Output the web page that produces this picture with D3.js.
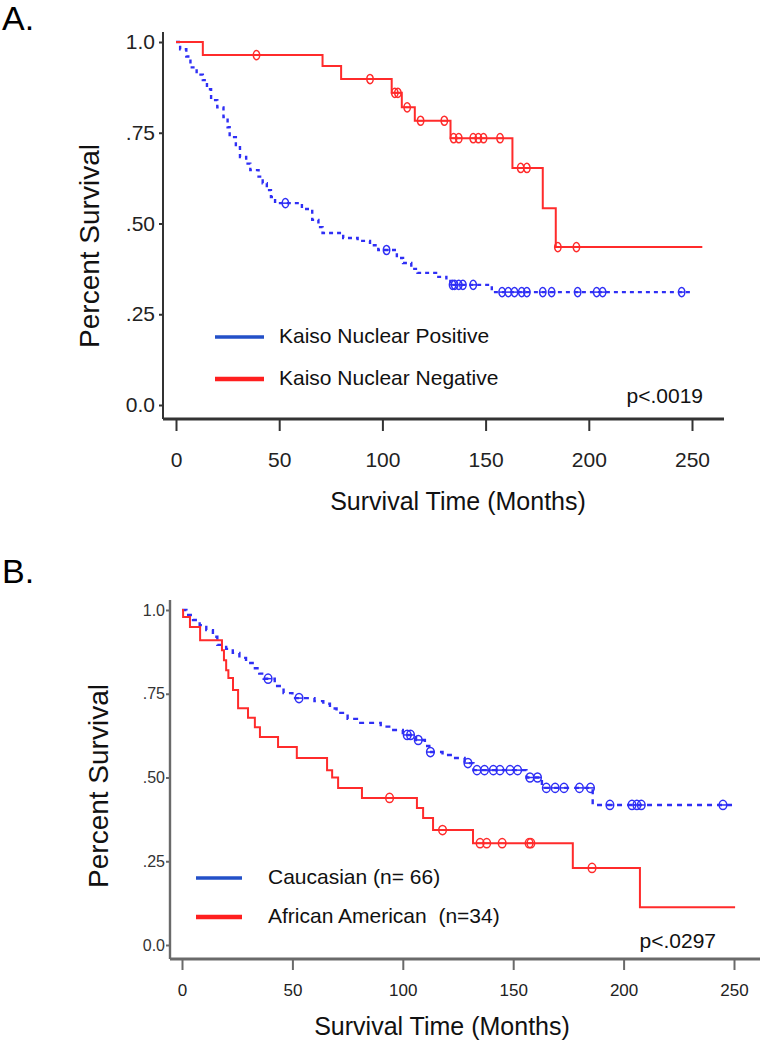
<!DOCTYPE html>
<html>
<head>
<meta charset="utf-8">
<script src="https://cdnjs.cloudflare.com/ajax/libs/d3/7.8.5/d3.min.js"></script>
<style>
  body { margin: 0; background: #fff; }
  svg text { font-family: "Liberation Sans", Arial, sans-serif; }
</style>
</head>
<body>
<svg id="chart" width="764" height="1050"></svg>
<script>
// ----- DATA -----

var xTicks = [0, 50, 100, 150, 200, 250];
var yTicks = [0, 0.25, 0.5, 0.75, 1.0];
var yTickLabels = ["0.0", ".25", ".50", ".75", "1.0"];

// panel A, Kaiso nuclear positive (blue, dashed)
var aPosTimes = [2, 5, 7, 10, 13, 15, 17, 20, 23, 25, 26, 29, 31, 34, 36, 40, 42, 44, 46, 48,
                 61, 66, 69, 71, 81, 88, 94, 98, 107, 110, 114, 117, 126, 131, 133, 153];
var aPosSurv  = [0.98, 0.96, 0.93, 0.91, 0.895, 0.87, 0.84, 0.82, 0.793, 0.765, 0.738, 0.71, 0.683, 0.665, 0.647, 0.629, 0.611, 0.592, 0.573, 0.556,
                 0.54, 0.51, 0.49, 0.474, 0.46, 0.452, 0.44, 0.427, 0.405, 0.391, 0.375, 0.364, 0.353, 0.342, 0.331, 0.311];
var aPosCensor = [53, 102, 134, 135, 137, 139, 144, 158, 161, 164, 167.5, 170, 177.7, 182, 194.6, 203.8, 206.7, 245];
var aPosEnd = 250;

// panel A, Kaiso nuclear negative (red, solid)
var aNegTimes = [13, 71, 80, 104.5, 109.4, 115.7, 133, 163, 177.7, 184];
var aNegSurv  = [0.964, 0.934, 0.898, 0.86, 0.82, 0.783, 0.735, 0.653, 0.542, 0.435];
var aNegCensor = [39, 94, 106, 107.5, 112, 118.5, 130, 134.5, 137, 144, 146.5, 149, 157, 167, 170, 185, 194];
var aNegEnd = 255;

// panel B, Caucasian (blue, dashed)
var bCauTimes = [2, 5, 8, 11, 14, 16, 20, 23, 26, 29, 32, 35, 37, 42, 46, 50, 60, 64, 67, 70, 75, 80, 90, 95,
                 100, 106, 110, 112, 118, 123, 128, 132, 156, 163, 186];
var bCauSurv  = [0.985, 0.97, 0.955, 0.94, 0.92, 0.896, 0.884, 0.872, 0.857, 0.842, 0.826, 0.81, 0.795, 0.773, 0.752, 0.737, 0.728, 0.72, 0.706, 0.693, 0.675, 0.663, 0.652, 0.642,
                 0.627, 0.612, 0.594, 0.576, 0.567, 0.558, 0.543, 0.522, 0.5, 0.469, 0.418];
var bCauCensor = [39, 53, 102, 103.5, 107, 112.5, 129.5, 133.6, 137, 141, 144, 148.6, 152, 157.6, 161,
                  165, 169, 173, 180, 185, 193.8, 203.8, 206, 208, 245];
var bCauEnd = 249.5;

// panel B, African American (red, solid)
var bAfrTimes = [0.5, 3.6, 8.2, 18.1, 19, 20, 21, 23.1, 25.4, 29.9, 33, 35.3, 43.5, 52, 65.7, 68, 70.7, 81.5,
                 106.4, 109.2, 113.7, 131.8, 177, 207.4];
var bAfrSurv  = [0.979, 0.949, 0.91, 0.88, 0.85, 0.82, 0.797, 0.761, 0.707, 0.678, 0.65, 0.621, 0.591, 0.558, 0.522, 0.5, 0.469, 0.439,
                 0.409, 0.379, 0.343, 0.304, 0.23, 0.113];
var bAfrCensor = [94, 118, 135, 138, 145, 157.2, 158, 185.7];
var bAfrEnd = 250.5;

var blue = "#2f2ff5";
var red = "#ff2b2b";

var svg = d3.select("#chart");
svg.append("rect").attr("width", 764).attr("height", 1050).attr("fill", "#fff");

// survival value at time t from a step function
function survAt(times, surv, t) {
    var i = d3.bisectRight(times, t);
    return i == 0 ? 1 : surv[i - 1];
}

function drawCurve(g, x, y, times, surv, censor, end, color, dash, width, rx, ry) {
    var pts = [[0, 1]];
    times.forEach(function(t, i) { pts.push([t, surv[i]]); });
    pts.push([end, surv[surv.length - 1]]);

    var line = d3.line()
        .x(function(d) { return x(d[0]); })
        .y(function(d) { return y(d[1]); })
        .curve(d3.curveStepAfter);

    g.append("path")
        .attr("d", line(pts))
        .attr("fill", "none")
        .attr("stroke", color)
        .attr("stroke-width", width)
        .attr("stroke-dasharray", dash);

    // censor marks, drawn like little thetas
    var marks = g.selectAll(null).data(censor).enter().append("g")
        .attr("transform", function(t) { return "translate(" + x(t) + "," + y(survAt(times, surv, t)) + ")"; });
    marks.append("ellipse")
        .attr("rx", rx).attr("ry", ry)
        .attr("fill", "none")
        .attr("stroke", color)
        .attr("stroke-width", 1.5);
    marks.append("line")
        .attr("x1", -rx).attr("x2", rx)
        .attr("stroke", color)
        .attr("stroke-width", 1.5);
}

function drawPanel(p) {
    var g = svg.append("g");
    var x = d3.scaleLinear().domain([0, 250]).range([p.x0, p.x250]);
    var y = d3.scaleLinear().domain([0, 1]).range([p.y0, p.y1]);

    // panel letter
    g.append("text").attr("x", 2).attr("y", p.letterY)
        .style("font-size", "34px").attr("fill", "#000").text(p.letter);

    // axes
    var gx = g.append("g")
        .attr("transform", "translate(0," + p.axisY + ")")
        .call(d3.axisBottom(x).tickValues(xTicks).tickSize(p.xTickSize).tickPadding(p.xPad).tickFormat(d3.format("d")));
    gx.attr("font-size", null).attr("font-family", null);
    gx.select(".domain").remove();
    gx.selectAll("line").attr("stroke", p.axisColor).attr("stroke-width", 2);
    gx.selectAll("text").style("font-size", p.xFont + "px").attr("fill", "#222");

    var gy = g.append("g")
        .attr("transform", "translate(" + p.axisX + ",0)")
        .call(d3.axisLeft(y).tickValues(yTicks).tickSize(4).tickPadding(p.yPad)
            .tickFormat(function(d, i) { return yTickLabels[i]; }));
    gy.attr("font-size", null).attr("font-family", null);
    gy.select(".domain").remove();
    gy.selectAll("line").attr("stroke", p.axisColor).attr("stroke-width", 2);
    gy.selectAll("text").style("font-size", p.yFont + "px").attr("fill", p.yTextColor);

    g.append("line")
        .attr("x1", p.axisX).attr("x2", p.axisX)
        .attr("y1", p.axisTop).attr("y2", p.axisY)
        .attr("stroke", p.axisColor).attr("stroke-width", p.axisWidth);
    g.append("line")
        .attr("x1", p.axisX).attr("x2", p.axisRight)
        .attr("y1", p.axisY).attr("y2", p.axisY)
        .attr("stroke", p.axisColor).attr("stroke-width", p.axisWidth + 0.8);

    // axis titles
    g.append("text")
        .attr("transform", "translate(" + p.yLabelX + "," + p.yLabelY + ") rotate(-90)")
        .attr("text-anchor", "middle").attr("dominant-baseline", "middle")
        .style("font-size", "28px").attr("fill", "#111")
        .text("Percent Survival");
    g.append("text")
        .attr("x", p.xLabelX).attr("y", p.xLabelY)
        .attr("text-anchor", "middle").attr("dominant-baseline", "middle")
        .style("font-size", "25px").attr("fill", "#111")
        .text("Survival Time (Months)");

    // curves
    p.curves.forEach(function(c) {
        drawCurve(g, x, y, c.times, c.surv, c.censor, c.end, c.color, c.dash, c.width, p.rx, p.ry);
    });

    // legend
    p.legend.forEach(function(l, i) {
        var ly = p.legY + i * p.legStep;
        g.append("line")
            .attr("x1", p.legX1).attr("x2", p.legX2)
            .attr("y1", ly).attr("y2", ly)
            .attr("stroke", l.color).attr("stroke-width", i == 0 ? 3.5 : 4.5);
        g.append("text")
            .attr("x", p.legTextX).attr("y", ly)
            .attr("dominant-baseline", "middle")
            .style("font-size", p.legFont + "px").attr("fill", "#111")
            .attr("xml:space", "preserve")
            .text(l.label);
    });

    g.append("text")
        .attr("x", p.pX).attr("y", p.pY)
        .attr("text-anchor", "end").attr("dominant-baseline", "middle")
        .style("font-size", "21px").attr("fill", "#111")
        .text(p.pText);
}

drawPanel({
    letter: "A.", letterY: 30,
    x0: 176, x250: 692, y0: 405, y1: 42,
    axisX: 163, axisY: 419, axisTop: 32, axisRight: 724,
    axisColor: "#333", axisWidth: 2,
    xTickSize: 12, xPad: 21, xFont: 21, yPad: 4, yFont: 21, yTextColor: "#222",
    yLabelX: 92, yLabelY: 246, xLabelX: 458, xLabelY: 503,
    rx: 3.2, ry: 4.6,
    curves: [
        { times: aPosTimes, surv: aPosSurv, censor: aPosCensor, end: aPosEnd, color: blue, dash: "4,4", width: 2.4 },
        { times: aNegTimes, surv: aNegSurv, censor: aNegCensor, end: aNegEnd, color: red, dash: null, width: 2 }
    ],
    legend: [
        { color: "#2350c8", label: "Kaiso Nuclear Positive" },
        { color: "#ff1f1f", label: "Kaiso Nuclear Negative" }
    ],
    legX1: 215, legX2: 264, legTextX: 279, legY: 337, legStep: 42, legFont: 21,
    pX: 703, pY: 397, pText: "p<.0019"
});

drawPanel({
    letter: "B.", letterY: 583,
    x0: 182, x250: 734, y0: 945, y1: 610,
    axisX: 170, axisY: 959, axisTop: 600, axisRight: 760,
    axisColor: "#6a6a6a", axisWidth: 2.4,
    xTickSize: 11, xPad: 14, xFont: 17, yPad: 1, yFont: 16, yTextColor: "#333",
    yLabelX: 101, yLabelY: 786, xLabelX: 442, xLabelY: 1028,
    rx: 3.8, ry: 4.6,
    curves: [
        { times: bCauTimes, surv: bCauSurv, censor: bCauCensor, end: bCauEnd, color: blue, dash: "5,5", width: 2.4 },
        { times: bAfrTimes, surv: bAfrSurv, censor: bAfrCensor, end: bAfrEnd, color: red, dash: null, width: 2 }
    ],
    legend: [
        { color: "#2350c8", label: "Caucasian (n= 66)" },
        { color: "#ff1f1f", label: "African American  (n=34)" }
    ],
    legX1: 196, legX2: 242, legTextX: 268, legY: 878, legStep: 39, legFont: 21,
    pX: 716, pY: 942, pText: "p<.0297"
});
</script>
</body>
</html>
